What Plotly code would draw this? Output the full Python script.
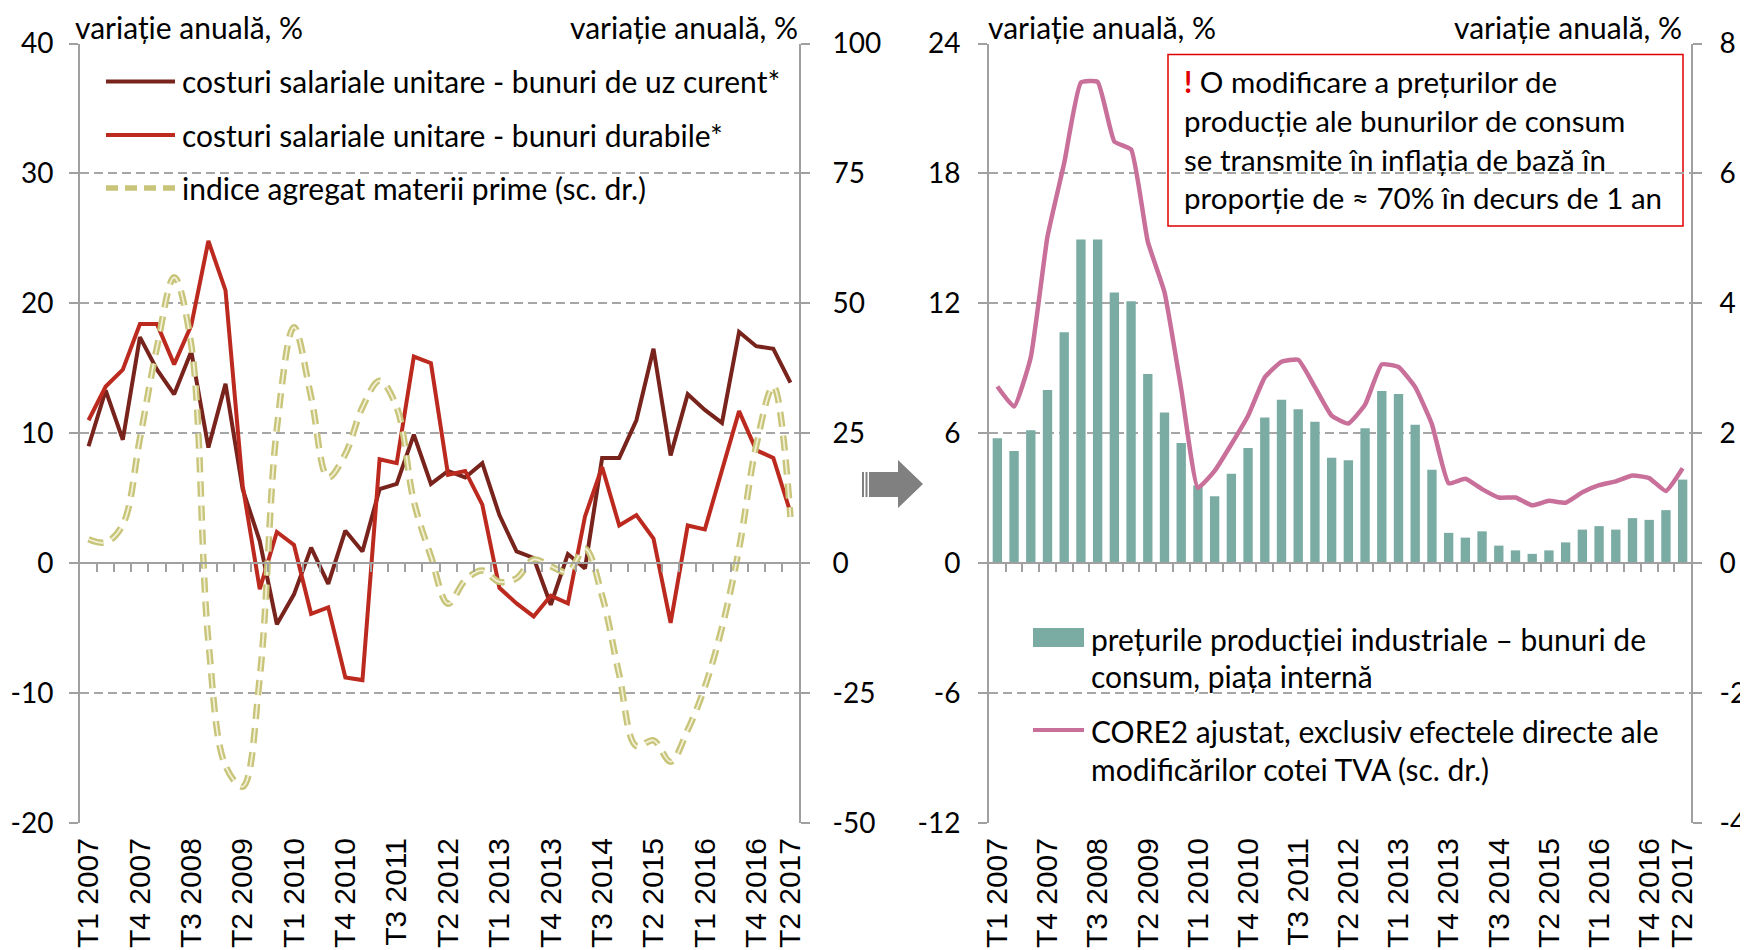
import plotly.graph_objects as go

# --- date ---------------------------------------------------------------
QUARTERS = [f"T{q} {y}" for y in range(2007, 2018) for q in range(1, 5)][:42]
TICK_IDX = list(range(0, 40, 3)) + [41]

# panou stanga (scala stanga, %)
ulc_curent = [9.0, 13.3, 9.5, 17.4, 14.9, 13.0, 16.3, 8.9, 13.8, 5.7,
              1.7, -4.7, -2.4, 1.2, -1.6, 2.5, 0.9, 5.7, 6.1, 9.9,
              6.1, 7.1, 6.6, 7.7, 3.7, 0.9, 0.4, -3.2, 0.7, -0.4,
              8.1, 8.1, 11.0, 16.5, 8.3, 13.0, 11.8, 10.8, 17.8, 16.7,
              16.5, 13.9]
ulc_durabile = [11.0, 13.6, 14.9, 18.4, 18.4, 15.3, 18.3, 24.8, 21.0, 6.0,
                -2.0, 2.4, 1.4, -3.9, -3.4, -8.8, -9.0, 8.0, 7.7, 15.9,
                15.4, 6.8, 7.1, 4.5, -1.9, -3.1, -4.1, -2.5, -3.1, 3.6,
                7.4, 2.9, 3.7, 1.9, -4.6, 2.9, 2.6, 7.2, 11.7, 8.7,
                8.1, 3.9]
# scala dreapta
materii_prime = [4.6, 4.0, 7.4, 24.0, 41.6, 55.0, 42.0, -15.0, -39.0, -43.0,
                 -22.0, 26.0, 45.4, 32.0, 16.5, 21.0, 30.0, 35.1, 30.0, 11.9,
                 1.3, -7.8, -3.3, -1.4, -3.6, -2.9, 0.7, -0.6, -1.7, 2.8,
                 -6.3, -21.5, -35.2, -34.1, -38.2, -32.1, -23.8, -12.4, 2.8, 22.6,
                 34.0, 8.9]

# panou dreapta
ppi_consum = [5.77, 5.18, 6.14, 8.0, 10.67, 14.95, 14.95, 12.5, 12.1, 8.74,
              6.96, 5.55, 3.59, 3.09, 4.13, 5.32, 6.73, 7.55, 7.11, 6.53,
              4.87, 4.75, 6.23, 7.95, 7.81, 6.39, 4.31, 1.40, 1.18, 1.47,
              0.81, 0.59, 0.43, 0.59, 0.96, 1.55, 1.71, 1.55, 2.08, 2.0,
              2.45, 3.86]
core2 = [2.72, 2.41, 3.17, 5.03, 6.16, 7.40, 7.41, 6.49, 6.37, 4.95,
         4.17, 2.68, 1.16, 1.42, 1.83, 2.27, 2.86, 3.10, 3.13, 2.71,
         2.27, 2.15, 2.44, 3.06, 3.02, 2.71, 2.14, 1.23, 1.30, 1.14,
         1.01, 1.01, 0.89, 0.96, 0.93, 1.09, 1.20, 1.26, 1.35, 1.31,
         1.11, 1.46]

X = list(range(len(QUARTERS)))

DARK_RED = "#78231C"
RED = "#BC2A1F"
OLIVE = "#C8C47A"
OLIVE_IN = "#F2F0D6"
TEAL = "#7AACA4"
PINK = "#C8709A"
GRID = "#A6A6A6"
AXIS = "#A0A0A0"
BODY = "Lato"

# pagina html are margine de 8px; figura se deseneaza decalat
OFF = 8
W, H = 1748 - OFF, 950 - OFF


def px_x(x):
    return (x - OFF) / W


def px_y(y):
    return 1 - (y - OFF) / H


Y_DOM = [px_y(823), px_y(43.5)]
ZERO = px_y(563.2)

fig = go.Figure()

# --- panou stanga ---
fig.add_trace(go.Scatter(x=X, y=ulc_curent, mode="lines",
                         line=dict(color=DARK_RED, width=4), xaxis="x", yaxis="y"))
fig.add_trace(go.Scatter(x=X, y=ulc_durabile, mode="lines",
                         line=dict(color=RED, width=4), xaxis="x", yaxis="y"))
fig.add_trace(go.Scatter(x=X, y=materii_prime, mode="lines",
                         line=dict(color=OLIVE, width=6.5, dash="15px,9px",
                                   shape="spline", smoothing=1),
                         xaxis="x", yaxis="y2"))
fig.add_trace(go.Scatter(x=X, y=materii_prime, mode="lines",
                         line=dict(color=OLIVE_IN, width=1.8, dash="15px,9px",
                                   shape="spline", smoothing=1),
                         xaxis="x", yaxis="y2"))

# --- panou dreapta ---
fig.add_trace(go.Bar(x=X, y=ppi_consum, marker=dict(color=TEAL, line_width=0),
                     xaxis="x2", yaxis="y3"))
fig.add_trace(go.Scatter(x=X, y=core2, mode="lines",
                         line=dict(color=PINK, width=4.5, shape="spline", smoothing=0.4),
                         xaxis="x2", yaxis="y4"))

# axe "zero" cu gradatii (fara date)
fig.add_trace(go.Scatter(x=[], y=[], xaxis="x3", yaxis="y"))
fig.add_trace(go.Scatter(x=[], y=[], xaxis="x4", yaxis="y3"))

xrange_ = [-0.5, len(QUARTERS) - 0.5]
bottom_x = dict(range=xrange_, tickmode="array", tickvals=TICK_IDX,
                ticktext=[QUARTERS[i] for i in TICK_IDX], tickangle=-90,
                tickfont=dict(family="Liberation Sans", size=30, color="black"),
                showgrid=False, showline=False, ticks="", zeroline=False,
                ticklabelstandoff=8, automargin=False)
zero_x = dict(range=xrange_, tickmode="array",
              tickvals=[k - 0.5 for k in range(1, len(QUARTERS))],
              ticks="outside", ticklen=8, tickwidth=1.5, tickcolor=AXIS,
              showticklabels=False, showgrid=False, zeroline=False,
              showline=True, linecolor=AXIS, linewidth=2,
              anchor="free", position=ZERO, automargin=False)


def y_left(lo, hi, dt, standoff):
    vals = list(range(lo, hi + 1, dt))
    return dict(range=[lo, hi], tickmode="array", tickvals=vals,
                ticktext=[str(v) for v in vals],
                showgrid=True, gridcolor=GRID,
                griddash="9px,5px", gridwidth=1.5, zeroline=False,
                showline=True, linecolor=AXIS, linewidth=2,
                ticks="outside", ticklen=9, tickcolor=AXIS, tickwidth=1.5,
                ticklabelstandoff=standoff,
                tickfont=dict(family=BODY, size=28, color="black"),
                domain=Y_DOM, automargin=False)


def y_right(lo, hi, dt, over, anchor, standoff):
    d = y_left(lo, hi, dt, standoff)
    d.update(showgrid=False, overlaying=over, side="right", anchor=anchor)
    return d


fig.update_layout(
    width=W, height=H, autosize=False,
    margin=dict(l=0, r=0, t=0, b=0),
    paper_bgcolor="white", plot_bgcolor="white",
    showlegend=False, bargap=0.44,
    xaxis=dict(domain=[px_x(80), px_x(799)], anchor="y", **bottom_x),
    xaxis2=dict(domain=[px_x(989), px_x(1691)], anchor="y3", **bottom_x),
    xaxis3=dict(overlaying="x", **zero_x),
    xaxis4=dict(overlaying="x2", **zero_x),
    yaxis=dict(anchor="x", **y_left(-20, 40, 10, 10)),
    yaxis2=y_right(-50, 100, 25, "y", "x", 17),
    yaxis3=dict(anchor="x2", **y_left(-12, 24, 6, 12)),
    yaxis4=y_right(-4, 8, 2, "y3", "x2", 12),
)

ann = []
shapes = []


def text(x, y, s, anchor="left", size=30, color="black"):
    ann.append(dict(x=px_x(x), y=px_y(y), xref="paper", yref="paper", text=s,
                    showarrow=False, xanchor=anchor, yanchor="middle",
                    font=dict(family=BODY, size=size, color=color)))


# titluri axe
TITLE_Y = 27
text(73, TITLE_Y, "variație anuală, %")
text(800, TITLE_Y, "variație anuală, %", anchor="right")
text(986, TITLE_Y, "variație anuală, %")
text(1684, TITLE_Y, "variație anuală, %", anchor="right")

# legenda stanga
leg_left = [
    ("costuri salariale unitare - bunuri de uz curent*", DARK_RED, 81.4, None),
    ("costuri salariale unitare - bunuri durabile*", RED, 135, None),
    ("indice agregat materii prime (sc. dr.)", OLIVE, 188, "dash"),
]
for label, col, yy, dash in leg_left:
    shapes.append(dict(type="line", xref="paper", yref="paper",
                       x0=px_x(106), x1=px_x(175), y0=px_y(yy), y1=px_y(yy),
                       line=dict(color=col, width=5.5 if dash else 4,
                                 dash="12px,7px" if dash else "solid")))
    text(180, yy, label)

# legenda dreapta
shapes.append(dict(type="rect", xref="paper", yref="paper",
                   x0=px_x(1033), x1=px_x(1084), y0=px_y(647), y1=px_y(628),
                   fillcolor=TEAL, line_width=0))
text(1089, 639, "prețurile producției industriale – bunuri de")
text(1089, 675.6, "consum, piața internă")
shapes.append(dict(type="line", xref="paper", yref="paper",
                   x0=px_x(1033), x1=px_x(1084), y0=px_y(730), y1=px_y(730),
                   line=dict(color=PINK, width=4)))
text(1089, 731, "CORE2 ajustat, exclusiv efectele directe ale")
text(1089, 769, "modificărilor cotei TVA (sc. dr.)")

# caseta
shapes.append(dict(type="rect", xref="paper", yref="paper",
                   x0=px_x(1168), x1=px_x(1683), y0=px_y(226), y1=px_y(54.6),
                   line=dict(color="#E00000", width=1.5), fillcolor="white",
                   layer="below"))
box_lines = [
    "<span style='color:#E00000'><b>!</b></span> O modificare a prețurilor de",
    "producție ale bunurilor de consum",
    "se transmite în inflația de bază în",
    "proporție de ≈ 70% în decurs de 1 an",
]
for s, yy in zip(box_lines, [81.4, 120.4, 159.4, 197.3]):
    text(1182, yy, s, size=29.5)

# sageata
arrow = ("M {a},{t} L {b},{t} L {b},{c} L {tip},{m} L {b},{d} L {b},{u} L {a},{u} Z"
         .format(a=px_x(869), b=px_x(898), tip=px_x(923), t=px_y(472), u=px_y(497),
                 c=px_y(460), d=px_y(508), m=px_y(484)))
shapes.append(dict(type="path", xref="paper", yref="paper", path=arrow,
                   fillcolor="#808080", line_width=0))
for xs in (862, 865.5):
    shapes.append(dict(type="rect", xref="paper", yref="paper",
                       x0=px_x(xs), x1=px_x(xs + 2), y0=px_y(497), y1=px_y(472),
                       fillcolor="#808080", line_width=0))

fig.update_layout(annotations=ann, shapes=shapes)
fig.write_html("out.html")
